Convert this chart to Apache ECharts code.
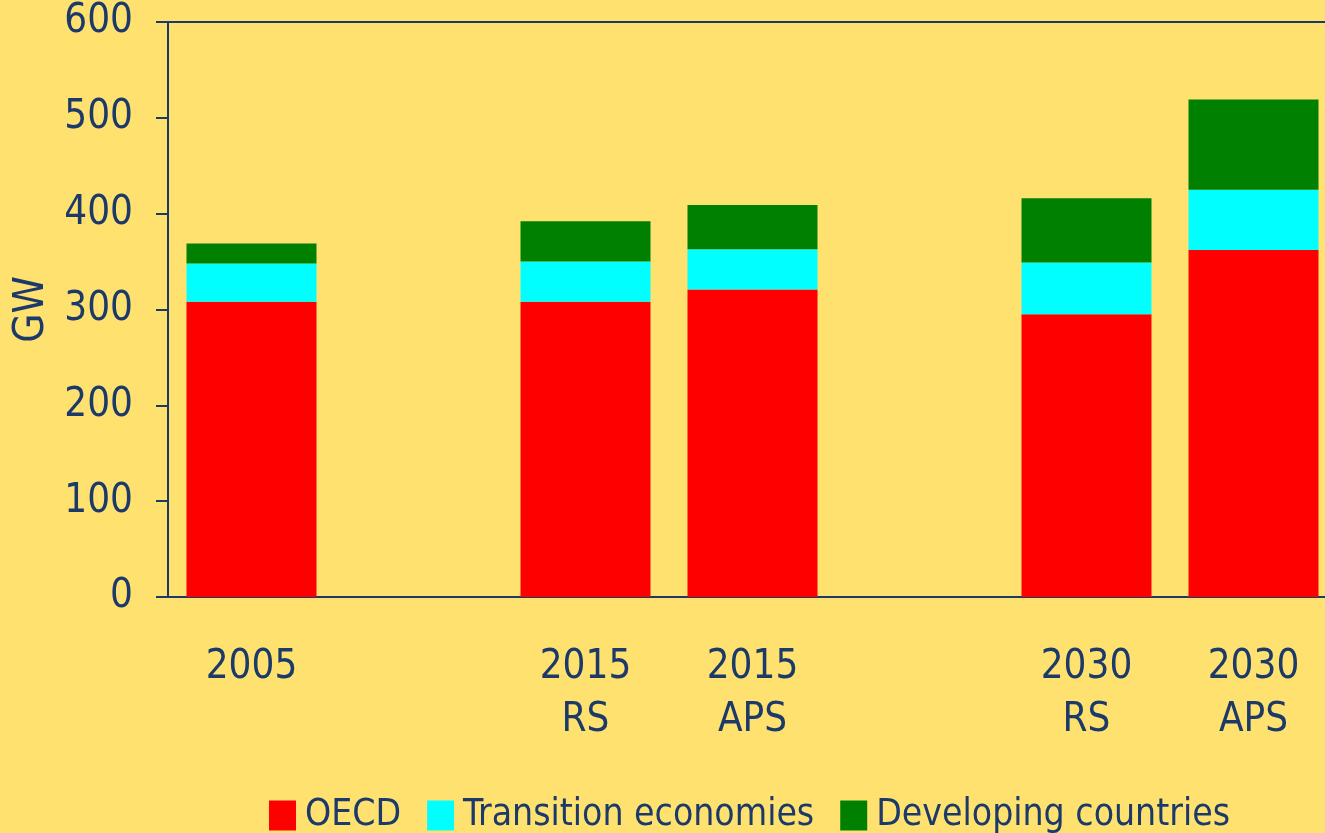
<!DOCTYPE html>
<html>
<head>
<meta charset="utf-8">
<script src="https://cdn.jsdelivr.net/npm/echarts@6/dist/echarts.min.js"></script>
<style>
  html, body { margin: 0; padding: 0; background: #FFE170; }
  #chart { width: 1325px; height: 833px; }
</style>
</head>
<body>
<div id="chart"></div>
<script>
// categories (empty ones are the gaps between the year groups)
var categories = ['2005', '', '2015\nRS', '2015\nAPS', '', '2030\nRS', '2030\nAPS']
var oecd = [308, '-', 308, 321, '-', 295, 362]
var transition = [40, '-', 42, 42, '-', 54, 63]
var developing = [21, '-', 42, 46, '-', 67, 94]
var yTicks = [0, 100, 200, 300, 400, 500, 600]

var navy = '#1B3A6A'
var font = '"Liberation Sans Narrow", "DejaVu Sans Condensed", sans-serif'

var chart = echarts.init(document.getElementById('chart'))
chart.setOption({
  backgroundColor: '#FFE170',
  animation: false,
  textStyle: { fontFamily: font, color: navy },
  grid: {
    left: 168,
    top: 22,
    bottom: 236,
    width: 1169,
    outerBoundsMode: 'none',
    containLabel: false,
    show: true,
    borderColor: navy,
    borderWidth: 2
  },
  legend: {
    data: ['OECD', 'Transition economies', 'Developing countries'],
    left: 264,
    top: 792,
    itemWidth: 27,
    itemHeight: 30,
    itemGap: 26,
    icon: 'rect',
    textStyle: { fontSize: 37, fontFamily: font, color: navy, padding: [0, 0, 0, 4] }
  },
  xAxis: {
    type: 'category',
    data: categories,
    axisLine: { lineStyle: { color: navy, width: 2 } },
    axisTick: { show: false },
    axisLabel: {
      interval: 0,
      fontSize: 40,
      lineHeight: 53,
      margin: 44,
      color: navy,
      fontFamily: font
    }
  },
  yAxis: {
    type: 'value',
    min: yTicks[0],
    max: yTicks[yTicks.length - 1],
    interval: 100,
    name: 'GW',
    nameLocation: 'middle',
    nameGap: 110,
    nameTextStyle: { fontSize: 42, color: navy, fontFamily: font },
    axisLine: { show: true, lineStyle: { color: navy, width: 2 } },
    axisTick: { show: true, length: 12, lineStyle: { color: navy, width: 2 } },
    axisLabel: { fontSize: 40, margin: 35, padding: [7, 0, 0, 0], color: navy, fontFamily: font },
    splitLine: { show: false }
  },
  series: [
    { name: 'OECD', type: 'bar', stack: 'gw', data: oecd, barWidth: 130, itemStyle: { color: '#FF0000' } },
    { name: 'Transition economies', type: 'bar', stack: 'gw', data: transition, itemStyle: { color: '#00FFFF' } },
    { name: 'Developing countries', type: 'bar', stack: 'gw', data: developing, itemStyle: { color: '#008000' } }
  ]
})
</script>
</body>
</html>
